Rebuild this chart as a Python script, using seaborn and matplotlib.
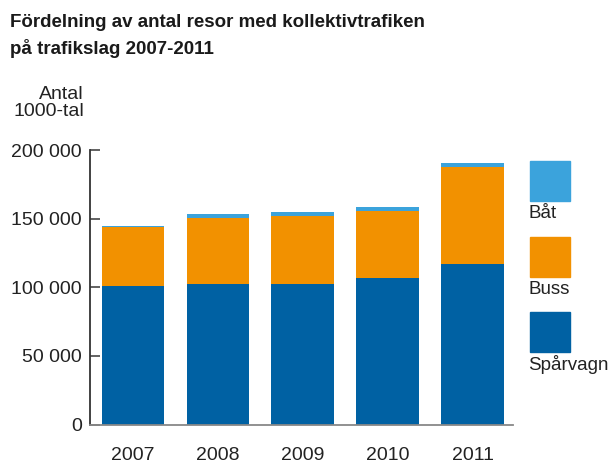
import seaborn as sns
import matplotlib.pyplot as plt
from matplotlib.patches import Rectangle
import numpy as np

# Data (antal resor, st)
years = ['2007', '2008', '2009', '2010', '2011']
sparvagn = [101000, 102400, 102400, 106500, 117200]
buss = [43000, 48300, 49300, 49300, 70600]
bat = [1000, 2400, 2900, 2900, 2500]

series = ['Båt', 'Buss', 'Spårvagn']
colors = {'Spårvagn': '#0061a3', 'Buss': '#f29100', 'Båt': '#3ba3dc'}
yticks = [0, 50000, 100000, 150000, 200000]

sns.set_style('white')
plt.rcParams['font.family'] = ['Liberation Sans', 'DejaVu Sans']

fig = plt.figure(figsize=(6.12, 4.66), dpi=100)
ax = fig.add_axes([0.147, 0.089, 0.691, 0.589])

# stacked bars: draw cumulative totals from top layer down
s1 = np.array(sparvagn)
s2 = s1 + np.array(buss)
s3 = s2 + np.array(bat)
for vals, name in [(s3, 'Båt'), (s2, 'Buss'), (s1, 'Spårvagn')]:
    sns.barplot(x=years, y=vals, color=colors[name], width=0.74,
                saturation=1, ax=ax, linewidth=0)

ax.set_xlim(-0.506, 4.47)
ax.set_ylim(0, 200000)
ax.set_yticks(yticks)
ax.set_yticklabels([f'{v:,}'.replace(',', ' ') for v in yticks])
ax.set_xlabel('')
ax.set_ylabel('')

for side in ['top', 'right']:
    ax.spines[side].set_visible(False)
ax.spines['left'].set_color('#333333')
ax.spines['left'].set_linewidth(1.3)
ax.spines['bottom'].set_color('#888888')
ax.spines['bottom'].set_linewidth(1.3)

ax.tick_params(axis='y', direction='in', length=7, width=1.3, color='#555555',
               labelsize=14, pad=6, labelcolor='#222222', left=True)
ax.tick_params(axis='x', length=0, labelsize=14, pad=16, labelcolor='#222222')

# title and unit label
fig.text(0.016, 0.969, 'Fördelning av antal resor med kollektivtrafiken\npå trafikslag 2007-2011',
         fontsize=13.5, fontweight='bold', va='top', ha='left', color='#1a1a1a',
         linespacing=1.5)
fig.text(0.137, 0.779, 'Antal\n1000-tal', fontsize=14, ha='right', va='center',
         color='#222222', linespacing=1.05)

# legend as boxes with labels underneath
W, H = 612, 466
legend_pos = [('Båt', 161), ('Buss', 237), ('Spårvagn', 312)]
for name, top in legend_pos:
    fig.patches.append(Rectangle((530 / W, 1 - (top + 40) / H), 40 / W, 40 / H,
                                 transform=fig.transFigure, color=colors[name]))
    fig.text(528 / W, 1 - (top + 53) / H, name, fontsize=13.5, ha='left',
             va='center', color='#222222')

fig.savefig('out.png', dpi=100)
